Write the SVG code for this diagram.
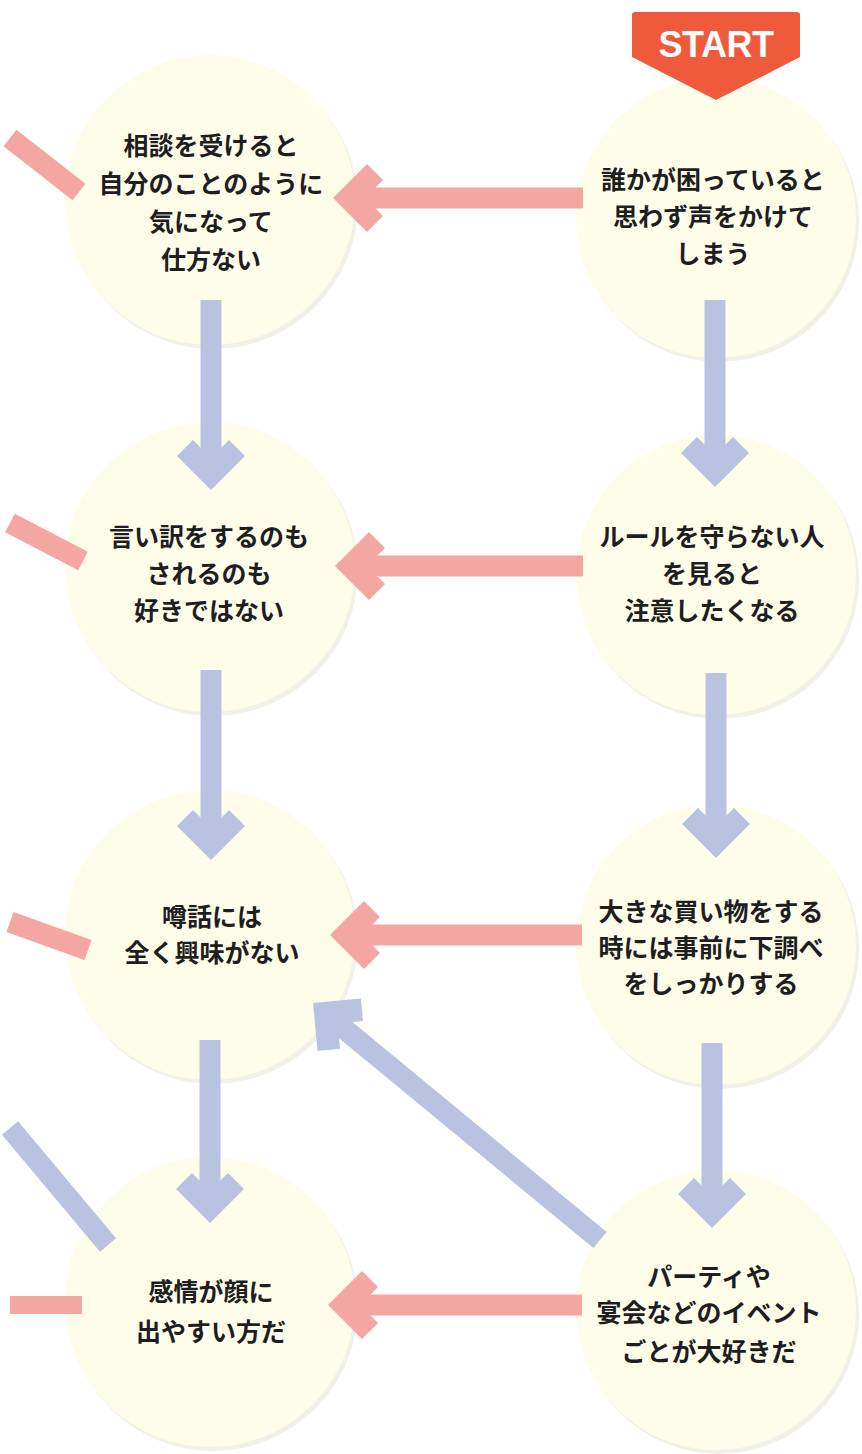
<svg xmlns="http://www.w3.org/2000/svg" width="862" height="1454" viewBox="0 0 862 1454">
  <style>
    .bg { fill: #ffffff; }
    .node { fill: #FEFDEA; }
    .shadow { fill: #F1F1E8; }
    .lbl { font-family: "Noto Sans CJK JP", "Noto Sans", sans-serif; font-weight: bold; font-size: 25px; fill: #1e1e1e; text-anchor: middle; }
    .pink { stroke: #F4A6A2; stroke-width: 21; fill: none; stroke-linecap: butt; }
    .blue { stroke: #BAC2E2; stroke-width: 21; fill: none; stroke-linecap: butt; }
    .start { fill: #EF5A3C; }
    .startTxt { font-family: "Liberation Sans", Arial, sans-serif; font-weight: bold; font-size: 36px; fill: #ffffff; text-anchor: middle; letter-spacing: -0.5px; }
  </style>
  <defs>
    <marker id="hPink" markerUnits="userSpaceOnUse" viewBox="-52 -36 54 72" refX="-24" refY="0" markerWidth="54" markerHeight="72" orient="auto">
      <polygon points="0,0 -34,-34 -50,-18 -32,0 -50,18 -34,34" fill="#F4A6A2"/>
    </marker>
    <marker id="hBlue" markerUnits="userSpaceOnUse" viewBox="-52 -36 54 72" refX="-24" refY="0" markerWidth="54" markerHeight="72" orient="auto">
      <polygon points="0,0 -34,-34 -50,-18 -32,0 -50,18 -34,34" fill="#BAC2E2"/>
    </marker>
  </defs>
  <rect class="bg" x="0" y="0" width="862" height="1454"/>

  <g id="circles">
    <circle class="shadow" cx="213" cy="204" r="145"/>
    <circle class="shadow" cx="719" cy="222" r="140"/>
    <circle class="shadow" cx="213" cy="571" r="145"/>
    <circle class="shadow" cx="719" cy="579" r="140"/>
    <circle class="shadow" cx="213" cy="939" r="145"/>
    <circle class="shadow" cx="719" cy="949" r="140"/>
    <circle class="shadow" cx="213" cy="1306" r="145"/>
    <circle class="shadow" cx="719" cy="1314" r="140"/>
  </g>

  <g id="n1"><circle class="node" cx="210" cy="200" r="145"/></g>
  <g id="n2"><circle class="node" cx="716" cy="218" r="140"/></g>
  <g id="n3"><circle class="node" cx="210" cy="567" r="145"/></g>
  <g id="n4"><circle class="node" cx="716" cy="575" r="140"/></g>
  <g id="n5"><circle class="node" cx="210" cy="935" r="145"/></g>
  <g id="n6"><circle class="node" cx="716" cy="945" r="140"/></g>
  <g id="n7"><circle class="node" cx="210" cy="1302" r="145"/></g>
  <g id="n8"><circle class="node" cx="716" cy="1310" r="140"/></g>

  <g id="connectors">
    <line class="pink" x1="583" y1="198" x2="357" y2="198" marker-end="url(#hPink)"/>
    <line class="pink" x1="583" y1="566" x2="359" y2="566" marker-end="url(#hPink)"/>
    <line class="pink" x1="582" y1="935" x2="354" y2="935" marker-end="url(#hPink)"/>
    <line class="pink" x1="582" y1="1305" x2="352" y2="1305" marker-end="url(#hPink)"/>

    <line class="blue" x1="211" y1="300" x2="211" y2="466" marker-end="url(#hBlue)"/>
    <line class="blue" x1="211" y1="670" x2="211" y2="836" marker-end="url(#hBlue)"/>
    <line class="blue" x1="210" y1="1040" x2="210" y2="1199" marker-end="url(#hBlue)"/>
    <line class="blue" x1="715" y1="300" x2="715" y2="463" marker-end="url(#hBlue)"/>
    <line class="blue" x1="716" y1="673" x2="716" y2="834" marker-end="url(#hBlue)"/>
    <line class="blue" x1="712" y1="1043" x2="712" y2="1204" marker-end="url(#hBlue)"/>
    <line class="blue" x1="600" y1="1240" x2="331.5" y2="1018.3" marker-end="url(#hBlue)"/>

    <line class="pink" x1="10" y1="138" x2="79" y2="192"/>
    <line class="pink" x1="10" y1="523" x2="83" y2="561"/>
    <line class="pink" x1="10" y1="922" x2="88" y2="950"/>
    <line class="pink" x1="10" y1="1305" x2="82" y2="1305" style="stroke-width:18"/>
    <line class="blue" x1="10" y1="1128" x2="108" y2="1245"/>
  </g>

  <g id="start">
    <path class="start" d="M632,15 Q632,12 635,12 L797,12 Q800,12 800,15 L800,57 L716,100 L632,57 Z"/>
    <text class="startTxt" x="716" y="57">START</text>
  </g>

  <g id="labels">
    <text class="lbl" x="211" y="155">相談を受けると</text>
    <text class="lbl" x="211" y="193">自分のことのように</text>
    <text class="lbl" x="211" y="231">気になって</text>
    <text class="lbl" x="211" y="269">仕方ない</text>

    <text class="lbl" x="713" y="189">誰かが困っていると</text>
    <text class="lbl" x="713" y="226">思わず声をかけて</text>
    <text class="lbl" x="713" y="263">しまう</text>

    <text class="lbl" x="209" y="546">言い訳をするのも</text>
    <text class="lbl" x="209" y="583">されるのも</text>
    <text class="lbl" x="209" y="620">好きではない</text>

    <text class="lbl" x="712" y="546">ルールを守らない人</text>
    <text class="lbl" x="712" y="583">を見ると</text>
    <text class="lbl" x="712" y="620">注意したくなる</text>

    <text class="lbl" x="212" y="926">噂話には</text>
    <text class="lbl" x="212" y="962">全く興味がない</text>

    <text class="lbl" x="711" y="921">大きな買い物をする</text>
    <text class="lbl" x="711" y="957">時には事前に下調べ</text>
    <text class="lbl" x="711" y="993">をしっかりする</text>

    <text class="lbl" x="211" y="1301">感情が顔に</text>
    <text class="lbl" x="211" y="1341">出やすい方だ</text>

    <text class="lbl" x="709" y="1286">パーティや</text>
    <text class="lbl" x="709" y="1322">宴会などのイベント</text>
    <text class="lbl" x="709" y="1361">ごとが大好きだ</text>
  </g>
</svg>
